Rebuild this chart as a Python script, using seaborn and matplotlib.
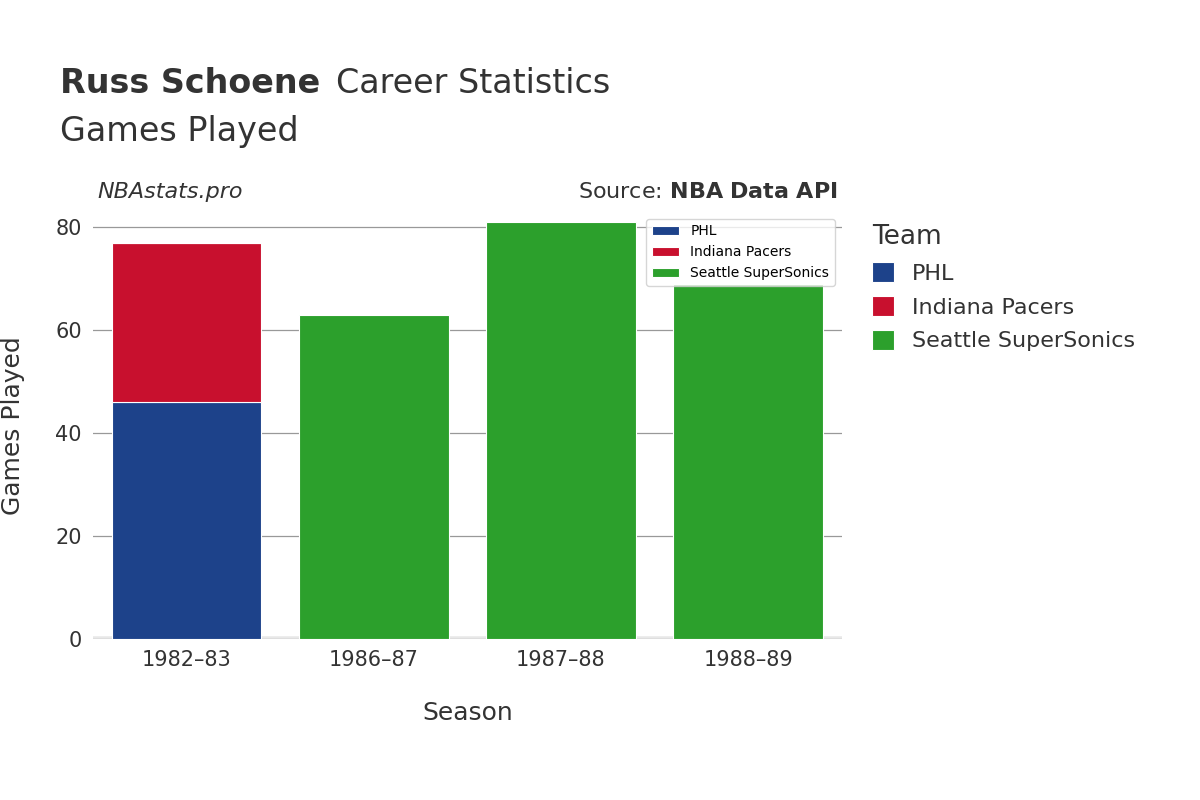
import matplotlib
matplotlib.use("Agg")
import matplotlib.pyplot as plt
import seaborn as sns
import pandas as pd

seasons = ["1982–83", "1986–87", "1987–88", "1988–89"]
phl = [46, 0, 0, 0]
ind = [31, 0, 0, 0]
sea = [0, 63, 81, 69]
teams = ["PHL", "Indiana Pacers", "Seattle SuperSonics"]
colors = ["#1d428a", "#c8102e", "#2ca02c"]

plt.rcParams["font.family"] = "DejaVu Sans"
fig = plt.figure(figsize=(12, 8), dpi=100)
ax = fig.add_axes([0.0775, 0.201, 0.624, 0.534])

bottom = [0, 0, 0, 0]
for name, vals, c in zip(teams, [phl, ind, sea], colors):
    df = pd.DataFrame({"Season": seasons, "Games": vals})
    sns.barplot(data=df, x="Season", y="Games", color=c, width=0.8,
                bottom=bottom, ax=ax, edgecolor="white", linewidth=0.8,
                label=name, saturation=1)
    bottom = [b + v for b, v in zip(bottom, vals)]

ax.set_ylim(0, 83)
ax.set_xlim(-0.5, 3.5)
ax.set_yticks([0, 20, 40, 60, 80])
ax.grid(axis="y", color="#999999", linewidth=0.9)
ax.set_axisbelow(True)
for s in ax.spines.values():
    s.set_visible(False)
ax.axhline(0, color="#e8e8e8", linewidth=4, zorder=0.5)
ax.tick_params(length=0, labelsize=15, colors="#333333", pad=8)
ax.set_xlabel("Season", fontsize=18, color="#333333", labelpad=22)
ax.set_ylabel("Games Played", fontsize=18, color="#333333", labelpad=22)

fig.text(0.05, 0.875, "Russ Schoene", fontsize=24, fontweight="bold", color="#333333", va="bottom")
fig.text(0.28, 0.875, "Career Statistics", fontsize=24, color="#333333", va="bottom")
fig.text(0.05, 0.815, "Games Played", fontsize=24, color="#333333", va="bottom")
fig.text(0.081, 0.76, "NBAstats.pro", fontsize=16, style="italic", color="#333333", va="center")
fig.text(0.698, 0.76, "Source: $\\bf{NBA\\ Data\\ API}$", fontsize=16, color="#333333", va="center", ha="right")

handles, labels = ax.get_legend_handles_labels()
leg = fig.legend(handles, labels, loc="upper left", bbox_to_anchor=(0.71, 0.745),
                 frameon=False, fontsize=16, title="Team", title_fontsize=19,
                 handlelength=1.0, handleheight=1.0, labelspacing=0.55, alignment="left")
for t in leg.get_texts():
    t.set_color("#333333")
leg.get_title().set_color("#333333")

fig.savefig("out.png", dpi=100)
